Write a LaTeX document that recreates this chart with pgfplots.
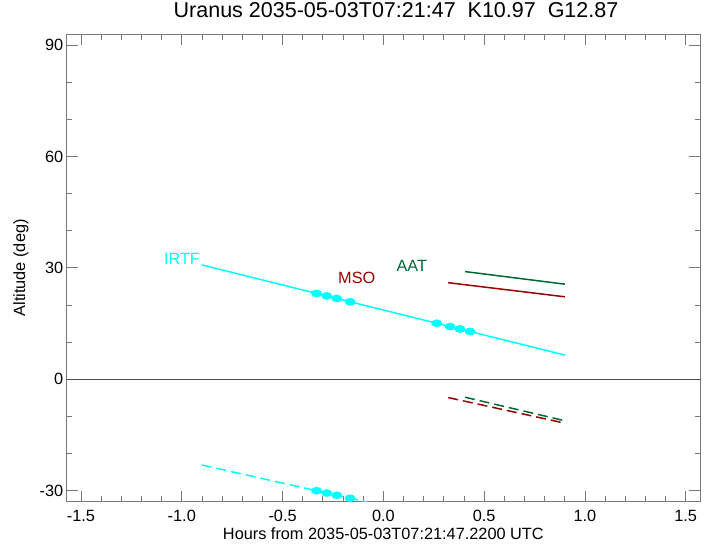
\documentclass[border=0pt]{standalone}
\usepackage{fontspec}
\setmainfont{Liberation Sans}
\usepackage{pgfplots}
\pgfplotsset{compat=1.18}
\definecolor{msored}{RGB}{155,0,0}
\definecolor{aatgreen}{RGB}{0,105,55}
\definecolor{irtfcyan}{RGB}{0,255,255}
\definecolor{framegray}{RGB}{120,120,120}
\begin{document}
\begin{tikzpicture}
\path[use as bounding box] (0,0) rectangle (710bp,544bp);
\begin{axis}[
  at={(66.7bp,42.3bp)}, anchor=south west,
  scale only axis, width=633.3bp, height=467.7bp,
  xmin=-1.571, xmax=1.571, ymin=-33, ymax=93,
  xtick={-1.5,-1,-0.5,0,0.5,1,1.5}, ytick={-30,0,30,60,90},
  minor x tick num=4, minor y tick num=2,
  major tick length=11bp, minor tick length=5.5bp,
  axis line style={framegray, line width=0.8bp},
  tick style={framegray, line width=0.8bp},
  /pgf/number format/assume math mode=true,
  tick label style={font=\fontsize{16.3bp}{19bp}\selectfont, black},
  xticklabel style={/pgf/number format/fixed, /pgf/number format/fixed zerofill, /pgf/number format/precision=1, anchor=base, yshift=-20bp},
  title={Uranus 2035-05-03T07:21:47\ \ K10.97\ \ G12.87},
  title style={at={(axis description cs:0.52,1.0235)}, anchor=base, font=\fontsize{21.5bp}{25bp}\selectfont},
  xlabel={Hours from 2035-05-03T07:21:47.2200 UTC},
  xlabel style={at={(axis description cs:0.5,-0.0804)}, anchor=base, font=\fontsize{16.3bp}{19bp}\selectfont},
  ylabel={Altitude (deg)},
  ylabel style={at={(axis description cs:-0.0722,0.5)}, anchor=center, font=\fontsize{16.3bp}{19bp}\selectfont},
  clip=true,
]
% zero line
\addplot[black!70, line width=0.8bp] coordinates {(-1.571,0) (1.571,0)};
% IRTF
\addplot[irtfcyan, line width=1.5bp] coordinates {(-0.901,30.8) (0.901,6.5)};
\addplot[irtfcyan, line width=1.5bp, dash pattern=on 10bp off 5bp] coordinates {(-0.901,-23.1) (-0.05,-33.48)};
\addplot[only marks, mark=*, mark size=3.6bp, irtfcyan, mark options={fill=irtfcyan, draw=irtfcyan, xscale=1.45}] coordinates {
  (-0.331,23.11) (-0.281,22.44) (-0.231,21.76) (-0.165,20.87)
  (0.265,15.07) (0.331,14.18) (0.380,13.52) (0.430,12.85)};
\addplot[only marks, mark=*, mark size=3.6bp, irtfcyan, mark options={fill=irtfcyan, draw=irtfcyan, xscale=1.45}] coordinates {
  (-0.331,-30.05) (-0.281,-30.66) (-0.231,-31.27) (-0.165,-32.08)};
% MSO
\addplot[msored, line width=1.5bp] coordinates {(0.322,26.0) (0.901,22.2)};
\addplot[msored, line width=1.5bp, dash pattern=on 10bp off 5bp] coordinates {(0.322,-4.95) (0.901,-11.85)};
% AAT
\addplot[aatgreen, line width=1.5bp] coordinates {(0.405,29.0) (0.901,25.6)};
\addplot[aatgreen, line width=1.5bp, dash pattern=on 10bp off 5bp] coordinates {(0.405,-4.85) (0.901,-11.2)};
% labels
\node[irtfcyan, anchor=east, inner sep=0pt, font=\fontsize{16.3bp}{19bp}\selectfont] at (axis cs:-0.909,32.4) {IRTF};
\node[msored, anchor=center, inner sep=0pt, font=\fontsize{16.3bp}{19bp}\selectfont] at (axis cs:-0.132,27.4) {MSO};
\node[aatgreen, anchor=center, inner sep=0pt, font=\fontsize{16.3bp}{19bp}\selectfont] at (axis cs:0.141,30.5) {AAT};
\end{axis}
\end{tikzpicture}
\end{document}
